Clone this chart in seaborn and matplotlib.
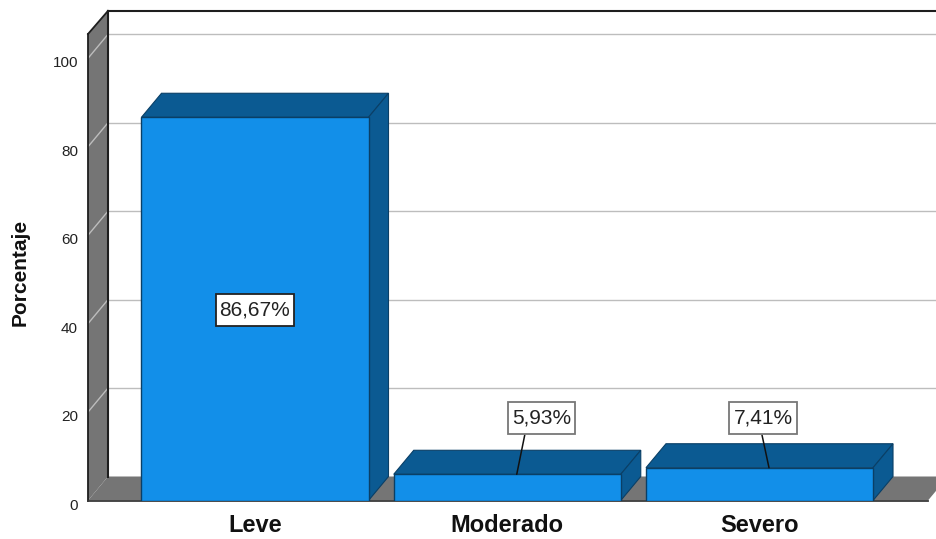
import matplotlib
matplotlib.use("Agg")
import matplotlib.pyplot as plt
import matplotlib.transforms as mtrans
import seaborn as sns

categories = ["Leve", "Moderado", "Severo"]
values = [86.67, 5.93, 7.41]
value_labels = ["86,67%", "5,93%", "7,41%"]
y_ticks = [0, 20, 40, 60, 80, 100]

FRONT = "#128FE9"
DARK = "#0B5A92"
EDGE = "#0A3F66"
WALL = "#757575"
GRID = "#BDBDBD"
LINE = "#1E1E1E"

W, H = 937, 539
sns.set_style("white")
plt.rcParams["font.family"] = ["Liberation Sans", "DejaVu Sans"]

fig = plt.figure(figsize=(W / 100, H / 100), dpi=100)
left, right, top, bottom = 88, 937, 34, 500.5
ax = fig.add_axes([left / W, 1 - bottom / H, (right - left) / W, (bottom - top) / H])
ax.patch.set_alpha(0)

sns.barplot(x=categories, y=values, color=FRONT, saturation=1, width=0.9,
            edgecolor=EDGE, linewidth=1, ax=ax, zorder=5)

step = 252.25
scale = (bottom - top) / 105.5
ax.set_xlim(-(255 - left) / step, (right - 255) / step)
ax.set_ylim(0, 105.5)
dx, dy = 20 / step, 24 / scale  # oblique depth of the 3D box
x0, x1 = ax.get_xlim()
ymax = ax.get_ylim()[1]
floor_end = x0 + (928 - left) / step


def poly(xs, ys, fc, ec="none", lw=0.0, z=1):
    ax.fill(xs, ys, facecolor=fc, edgecolor=ec, linewidth=lw, zorder=z,
            clip_on=False, joinstyle="miter")


def seg(xs, ys, c, lw, z):
    ax.plot(xs, ys, color=c, linewidth=lw, zorder=z, clip_on=False,
            solid_capstyle="projecting")


# left wall and floor
poly([x0, x0 + dx, x0 + dx, x0], [0, dy, ymax + dy - 0.2, ymax], WALL, z=1)
poly([x0, floor_end, floor_end + dx, x0 + dx], [0, 0, dy, dy], WALL, z=1)

# grid lines: back wall plus the diagonal over the left wall
for t in y_ticks[1:]:
    seg([x0 + dx, x1], [t + dy, t + dy], GRID, 1.0, 1.5)
    seg([x0, x0 + dx], [t, t + dy], GRID, 1.0, 1.5)

# frame
seg([x0, x0], [0, ymax], LINE, 1.3, 2)
seg([x0 + dx, x0 + dx], [dy, ymax + dy - 0.2], LINE, 1.5, 2)
seg([x0, x0 + dx], [ymax, ymax + dy - 0.2], LINE, 1.3, 2)
seg([x0 + dx, x1], [ymax + dy - 0.2, ymax + dy - 0.2], LINE, 1.5, 2)
seg([x0, floor_end], [0, 0], "#3A3A3A", 1.3, 2)

# depth faces
bars = list(ax.patches[:len(values)])
for bar in bars:
    a, w, h = bar.get_x(), bar.get_width(), bar.get_height()
    b = a + w
    poly([a, b, b + dx, a + dx], [h, h, h + dy, h + dy], DARK, EDGE, 0.8, 4)
    poly([b, b + dx, b + dx, b], [0, dy, h + dy, h], DARK, EDGE, 0.8, 4)

# value labels: offsets from the top of each bar, in pixels
box_dx = [0, 34, 3.5]
box_y_px = [None, 418, 418]
box_edges = ["#222222", "#777777", "#777777"]
leader_dx = [None, (9.5, 17.5), (9.5, 2.5)]
inv = ax.transData.inverted()
for i, (bar, lab) in enumerate(zip(bars, value_labels)):
    xc = bar.get_x() + bar.get_width() / 2
    h = bar.get_height()
    if box_y_px[i] is None:
        xy = (xc, h / 2)
        yoff = -1
    else:
        xy = (xc, h)
        yoff = (bottom - h * scale) - box_y_px[i]
        p0, p1 = leader_dx[i]
        xa, ya = inv.transform(ax.transData.transform((xc, h)) + (p0, 0))
        xb, yb = inv.transform(ax.transData.transform((xc, h)) + (p1, yoff - 17))
        ax.plot([xa, xb], [ya, yb], color="#111111", lw=1.1, zorder=6, clip_on=False)
    ax.annotate(lab, xy=xy, xycoords="data",
                xytext=(box_dx[i] * 0.72, yoff * 0.72), textcoords="offset points",
                ha="center", va="center", fontsize=15, color="#222222", zorder=7,
                bbox=dict(boxstyle="square,pad=0.19", facecolor="white", mutation_aspect=1.7,
                          edgecolor=box_edges[i], linewidth=1.3))

# axes text
ax.set_yticks(y_ticks)
ax.set_yticklabels([str(t) for t in y_ticks], fontsize=11, color="#222222")
ax.tick_params(axis="y", length=0, pad=7.2)
ax.tick_params(axis="x", length=0, pad=9.5)
for lab in ax.get_xticklabels():
    lab.set_fontsize(17)
    lab.set_fontweight("bold")
    lab.set_color("#111111")
shift = mtrans.ScaledTranslation(0, -3.5 / 100, fig.dpi_scale_trans)
for lab in ax.get_yticklabels():
    lab.set_transform(lab.get_transform() + shift)
ax.set_ylabel("Porcentaje", fontsize=15, fontweight="bold", color="#111111")
ax.yaxis.set_label_coords(-(left - 30) / (right - left), (bottom - 272) / (bottom - top))
ax.set_xlabel("")
ax.grid(False)
for s in ax.spines.values():
    s.set_visible(False)

fig.savefig("out.png", dpi=100)
